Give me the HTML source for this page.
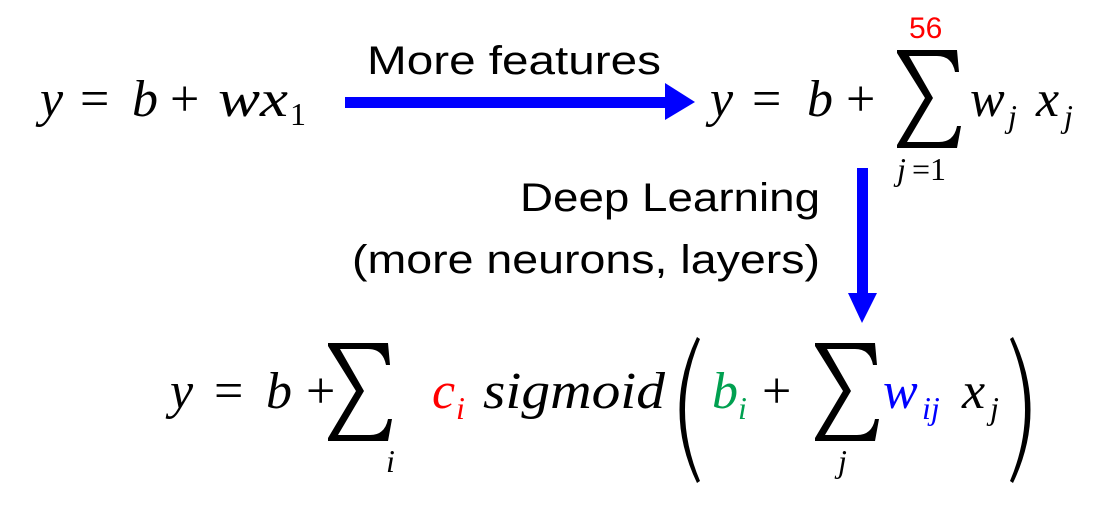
<!DOCTYPE html>
<html><head><meta charset="utf-8"><style>
html,body{margin:0;padding:0;background:#fff;}
svg{display:block}
.m{font-family:"Liberation Serif",serif;font-style:italic;}
.n{font-family:"Liberation Serif",serif;}
.s{font-family:"Liberation Sans",sans-serif;}
</style></head><body>
<svg width="1116" height="508" viewBox="0 0 1116 508">
<defs>
<path id="sig" d="M0,0 L60,0 L62,22 L58,22 Q55,6 40,6 L12,6 L36,48 L10,92 L42,92 Q57,92 60,76 L64,76 L60,98 L0,98 L0,95 L28,48 L0,3 Z" fill="#000"/>
</defs>
<!-- eq1 -->
<text x="40" y="116" font-size="52" class="m">y</text>
<text x="80" y="116" font-size="52" class="n">=</text>
<text x="132" y="116" font-size="52" class="m">b</text>
<text x="170" y="116" font-size="52" class="n">+</text>
<text x="218" y="116" font-size="52" class="m" textLength="70" lengthAdjust="spacingAndGlyphs">wx</text>
<text x="290" y="125" font-size="32" class="n">1</text>
<!-- arrow 1 -->
<rect x="345" y="97" width="322" height="11" fill="#0000ff"/>
<polygon points="665,83 695,102 665,120" fill="#0000ff"/>
<text x="367" y="74" font-size="40" class="s" textLength="294" lengthAdjust="spacingAndGlyphs">More features</text>
<!-- eq2 -->
<text x="710" y="116" font-size="52" class="m">y</text>
<text x="752" y="116" font-size="52" class="n">=</text>
<text x="807" y="116" font-size="52" class="m">b</text>
<text x="846" y="116" font-size="52" class="n">+</text>
<use href="#sig" x="897" y="50"/>
<text x="909" y="38" font-size="30" fill="#ff0000" class="s">56</text>
<text x="897" y="180" font-size="32" class="m">j</text>
<text x="912" y="180" font-size="32" class="n">=1</text>
<text x="970" y="116" font-size="52" class="m">w</text>
<text x="1008" y="127" font-size="32" class="m">j</text>
<text x="1036" y="116" font-size="52" class="m">x</text>
<text x="1064" y="127" font-size="32" class="m">j</text>
<!-- arrow 2 -->
<rect x="857" y="168" width="11" height="127" fill="#0000ff"/>
<polygon points="848,293 862,323 877,293" fill="#0000ff"/>
<text x="520" y="211" font-size="40" class="s" textLength="300" lengthAdjust="spacingAndGlyphs">Deep Learning</text>
<text x="352" y="273" font-size="40" class="s" textLength="468" lengthAdjust="spacingAndGlyphs">(more neurons, layers)</text>
<!-- eq3 -->
<text x="170" y="408" font-size="52" class="m">y</text>
<text x="214" y="408" font-size="52" class="n">=</text>
<text x="266" y="408" font-size="52" class="m">b</text>
<text x="306" y="408" font-size="52" class="n">+</text>
<use href="#sig" x="328" y="343"/>
<text x="386" y="472" font-size="32" class="m">i</text>
<text x="432" y="408" font-size="52" fill="#ff0000" class="m">c</text>
<text x="456" y="419" font-size="32" fill="#ff0000" class="m">i</text>
<text x="483" y="408" font-size="52" class="m" textLength="182" lengthAdjust="spacingAndGlyphs">sigmoid</text>
<path d="M697,337 Q662,410 697,483 L700,481 Q670,410 700,339 Z" fill="#000"/>
<text x="712" y="408" font-size="52" fill="#00a050" class="m">b</text>
<text x="738" y="419" font-size="32" fill="#00a050" class="m">i</text>
<text x="762" y="408" font-size="52" class="n">+</text>
<use href="#sig" x="815" y="343"/>
<text x="838" y="472" font-size="32" class="m">j</text>
<text x="883" y="408" font-size="52" fill="#0000ff" class="m">w</text>
<text x="922" y="419" font-size="32" fill="#0000ff" class="m">ij</text>
<text x="962" y="408" font-size="52" class="m">x</text>
<text x="990" y="419" font-size="32" class="m">j</text>
<path d="M1013,337 Q1048,410 1013,483 L1010,481 Q1040,410 1010,339 Z" fill="#000"/>
</svg>
</body></html>
